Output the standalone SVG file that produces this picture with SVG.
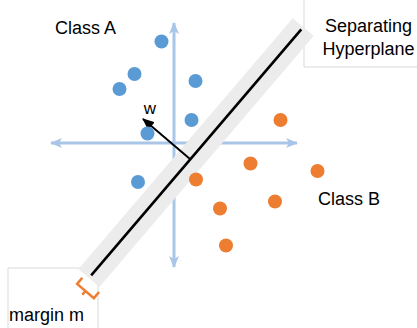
<svg xmlns="http://www.w3.org/2000/svg" width="417" height="328" viewBox="0 0 417 328">
  <style>
    .label { font-family: "Liberation Sans", Arial, sans-serif; font-size: 18px; fill: #000; }
    .box { fill: #fff; stroke: #d9d9d9; stroke-width: 1; }
    .axis { stroke: #a9c6e8; stroke-width: 3; fill: none; marker-end: url(#axisHead); }
    .a { fill: #5b9bd5; }
    .b { fill: #ed7d31; }
  </style>
  <defs>
    <marker id="axisHead" viewBox="0 0 12 10" refX="11" refY="5" markerWidth="12" markerHeight="10" markerUnits="userSpaceOnUse" orient="auto">
      <path d="M0,0 L12,5 L0,10 L3,5 Z" fill="#a9c6e8"/>
    </marker>
    <marker id="wHead" viewBox="0 0 12 10" refX="11" refY="5" markerWidth="12" markerHeight="10" markerUnits="userSpaceOnUse" orient="auto">
      <path d="M0,0 L12,5 L0,10 Z" fill="#000"/>
    </marker>
  </defs>

  <!-- text boxes -->
  <g id="hyperplane-label">
    <path class="box" d="M304,-1 V67 H418"/>
    <text class="label" x="368.5" y="32" text-anchor="middle">Separating</text>
    <text class="label" x="368.5" y="55" text-anchor="middle">Hyperplane</text>
  </g>
  <g id="margin-label">
    <path class="box" d="M8,329 V268 H98 V329"/>
    <text class="label" x="9" y="321">margin m</text>
  </g>

  <!-- coordinate axes -->
  <g id="axes">
    <line class="axis" x1="174" y1="143" x2="51" y2="143"/>
    <line class="axis" x1="174" y1="143" x2="297" y2="143"/>
    <line class="axis" x1="174" y1="143" x2="174" y2="23"/>
    <line class="axis" x1="174" y1="143" x2="174" y2="267"/>
  </g>

  <!-- margin band with separating line -->
  <g id="hyperplane" transform="translate(88.9,278) rotate(-49.5)">
    <rect x="0" y="-13.7" width="330" height="27.4" fill="#ececec"/>
    <line x1="3.5" y1="0" x2="327" y2="0" stroke="#000" stroke-width="2.6"/>
  </g>

  <!-- margin brace -->
  <g id="margin-brace" transform="translate(85.5,291) rotate(40.5)">
    <path d="M-11,-8 L-11,0 L11,0 L11,-8 M0,0 L0,5" fill="none" stroke="#ed7d31" stroke-width="2.5" stroke-linejoin="miter"/>
  </g>

  <!-- normal vector -->
  <g id="connectors">
    <line x1="190" y1="159" x2="143" y2="119" stroke="#000" stroke-width="2" marker-end="url(#wHead)"/>
  </g>
  <text id="w-label" class="label" x="150" y="113.5" text-anchor="middle" style="font-size:17px">w</text>

  <!-- class A samples -->
  <g id="class-a-points">
    <circle class="a" cx="161.5" cy="41.5" r="7"/>
    <circle class="a" cx="134.5" cy="74" r="7"/>
    <circle class="a" cx="119.5" cy="89" r="7"/>
    <circle class="a" cx="195.5" cy="81" r="7"/>
    <circle class="a" cx="191.5" cy="120" r="7"/>
    <circle class="a" cx="147.5" cy="133.5" r="7"/>
    <circle class="a" cx="138" cy="182" r="7"/>
  </g>

  <!-- class B samples -->
  <g id="class-b-points">
    <circle class="b" cx="280.5" cy="120" r="7"/>
    <circle class="b" cx="250.5" cy="163.5" r="7"/>
    <circle class="b" cx="317.5" cy="171" r="7"/>
    <circle class="b" cx="196" cy="179.5" r="7"/>
    <circle class="b" cx="275" cy="201.5" r="7"/>
    <circle class="b" cx="220" cy="208.5" r="7"/>
    <circle class="b" cx="226" cy="245.5" r="7"/>
  </g>

  <g id="class-labels">
    <text class="label" x="55" y="34">Class A</text>
    <text class="label" x="318" y="205">Class B</text>
  </g>
</svg>
